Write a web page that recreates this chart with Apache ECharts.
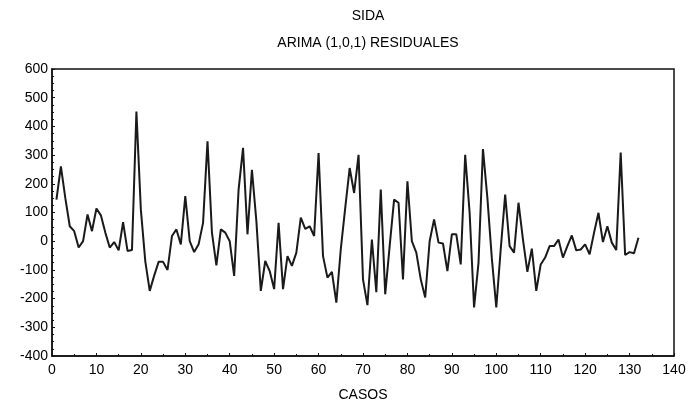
<!DOCTYPE html>
<html>
<head>
<meta charset="utf-8">
<script src="https://cdn.jsdelivr.net/npm/echarts@6/dist/echarts.min.js"></script>
<style>html,body{margin:0;padding:0;background:#fff}#c{width:689px;height:407px}</style>
</head>
<body>
<div id="c"></div>
<script>
const titleMain = 'SIDA';
const titleSub = 'ARIMA (1,0,1) RESIDUALES';
const xName = 'CASOS';
const residuales = [
  145, 261, 150, 52, 35, -22, 0, 93, 35, 114,
  90, 30, -22, -3, -32, 66, -34, -31, 452, 110,
  -70, -173, -120, -72, -72, -100, 18, 41, -11, 157,
  0, -38, -11, 64, 348, 30, -84, 41, 30, 0,
  -121, 180, 325, 24, 249, 70, -173, -69, -104, -167,
  64, -167, -52, -86, -40, 82, 43, 52, 18, 307,
  -52, -127, -107, -214, -28, 116, 255, 168, 301, -133,
  -223, 6, -178, 180, -185, -17, 145, 134, -133, 209,
  0, -40, -133, -196, 0, 76, -5, -8, -104, 24,
  24, -81, 301, 99, -231, -75, 321, 150, -60, -231,
  -28, 162, -17, -40, 134, 6, -107, -26, -173, -81,
  -57, -17, -17, 6, -57, -17, 20, -32, -29, -11,
  -46, 29, 99, -3, 52, -5, -31, 309, -48, -38,
  -42, 12
];
const xMin = 0, xMax = 140, xStep = 10;
const yMin = -400, yMax = 600, yStep = 100;

const font = '"Liberation Sans Narrow", "Liberation Sans", Arial, sans-serif';
const chart = echarts.init(document.getElementById('c'), null, {renderer: 'canvas'});
const seriesData = residuales.map((v, i) => [i + 1, v]);
chart.setOption({
  animation: false,
  backgroundColor: '#fff',
  title: [
    {text: titleMain, left: 363, top: 4, textAlign: 'center',
     textStyle: {fontFamily: font, fontSize: 14, fontWeight: 'normal', color: '#000'}},
    {text: titleSub, left: 363, top: 31, textAlign: 'center',
     textStyle: {fontFamily: font, fontSize: 14, fontWeight: 'normal', color: '#000'}}
  ],
  grid: {left: 52, right: 15, top: 69, bottom: 50, show: true, borderColor: '#111', borderWidth: 1.5, backgroundColor: 'transparent'},
  xAxis: {
    type: 'value', min: xMin, max: xMax, interval: xStep,
    name: xName, nameLocation: 'middle', nameGap: 32,
    nameTextStyle: {fontFamily: font, fontSize: 14, color: '#000'},
    axisLine: {show: true, onZero: false, lineStyle: {color: '#111', width: 1.5}},
    axisTick: {show: true, inside: true, length: 3, lineStyle: {color: '#111'}},
    minorTick: {show: true, splitNumber: 2, length: 2, lineStyle: {color: '#111'}},
    axisLabel: {fontFamily: font, fontSize: 14, color: '#000', margin: 7},
    splitLine: {show: false}
  },
  yAxis: {
    type: 'value', min: yMin, max: yMax, interval: yStep,
    axisLine: {show: true, onZero: false, lineStyle: {color: '#111', width: 1.5}},
    axisTick: {show: true, inside: true, length: 3, lineStyle: {color: '#111'}},
    minorTick: {show: true, splitNumber: 4, length: 2, lineStyle: {color: '#111'}},
    axisLabel: {fontFamily: font, fontSize: 14, color: '#000', margin: 4},
    splitLine: {show: false}
  },
  series: [{
    type: 'line', data: seriesData, showSymbol: false, symbol: 'none',
    lineStyle: {color: '#1a1a1a', width: 2}
  }]
});
</script>
</body>
</html>
